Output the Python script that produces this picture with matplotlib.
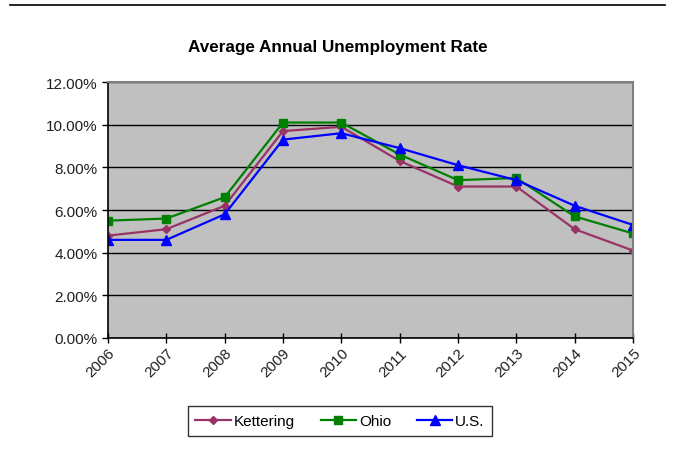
import matplotlib
matplotlib.use("Agg")
import matplotlib.pyplot as plt
from matplotlib.lines import Line2D
from matplotlib.ticker import FuncFormatter

years = [2006, 2007, 2008, 2009, 2010, 2011, 2012, 2013, 2014, 2015]
kettering = [4.8, 5.1, 6.2, 9.7, 9.9, 8.3, 7.1, 7.1, 5.1, 4.1]
ohio = [5.5, 5.6, 6.6, 10.1, 10.1, 8.6, 7.4, 7.5, 5.7, 4.9]
us = [4.6, 4.6, 5.8, 9.3, 9.6, 8.9, 8.1, 7.4, 6.2, 5.3]

plt.rcParams["font.family"] = ["Liberation Sans", "DejaVu Sans"]

fig = plt.figure(figsize=(6.75, 4.64), dpi=100)
ax = fig.add_axes([0.16, 0.2694, 0.7778, 0.5517])
ax.set_facecolor("#C0C0C0")

ax.plot(years, kettering, color="#993366", marker="D", markersize=4.5, lw=1.6, label="Kettering")
ax.plot(years, ohio, color="#008000", marker="s", markersize=5.5, lw=1.6, label="Ohio")
ax.plot(years, us, color="#0000FF", marker="^", markersize=6.5, lw=1.6, label="U.S.")

ax.set_xlim(years[0], years[-1])
ax.set_ylim(0, 12)
ax.set_yticks(range(0, 13, 2))
ax.yaxis.set_major_formatter(FuncFormatter(lambda v, p: f"{v:.2f}%"))
ax.set_xticks(years)
ax.set_xticklabels([str(y) for y in years], rotation=45, ha="right", rotation_mode="anchor")
ax.grid(axis="y", color="black", lw=1)
ax.set_axisbelow(True)
ax.tick_params(axis="both", labelsize=11, labelcolor="#202020", color="black", length=4, width=1)
ax.tick_params(axis="x", direction="inout", length=7, pad=2)

for side in ("left", "bottom"):
    ax.spines[side].set_color("black")
    ax.spines[side].set_linewidth(1.2)
for side in ("top", "right"):
    ax.spines[side].set_color("#808080")
    ax.spines[side].set_linewidth(1.5)

fig.text(0.5, 0.897, "Average Annual Unemployment Rate", ha="center", va="center",
         fontsize=12.3, fontweight="bold")

leg = fig.legend(loc="center", bbox_to_anchor=(0.5037, 0.0905), ncol=3, fontsize=11,
                 frameon=True, fancybox=False, edgecolor="black", handlelength=2.3,
                 handletextpad=0.2, columnspacing=1.7, borderpad=0.5)
leg.get_frame().set_linewidth(1)

fig.add_artist(Line2D([0.015, 0.985], [0.987, 0.987], color="black", lw=1.2))

fig.savefig("out.png", dpi=100)
